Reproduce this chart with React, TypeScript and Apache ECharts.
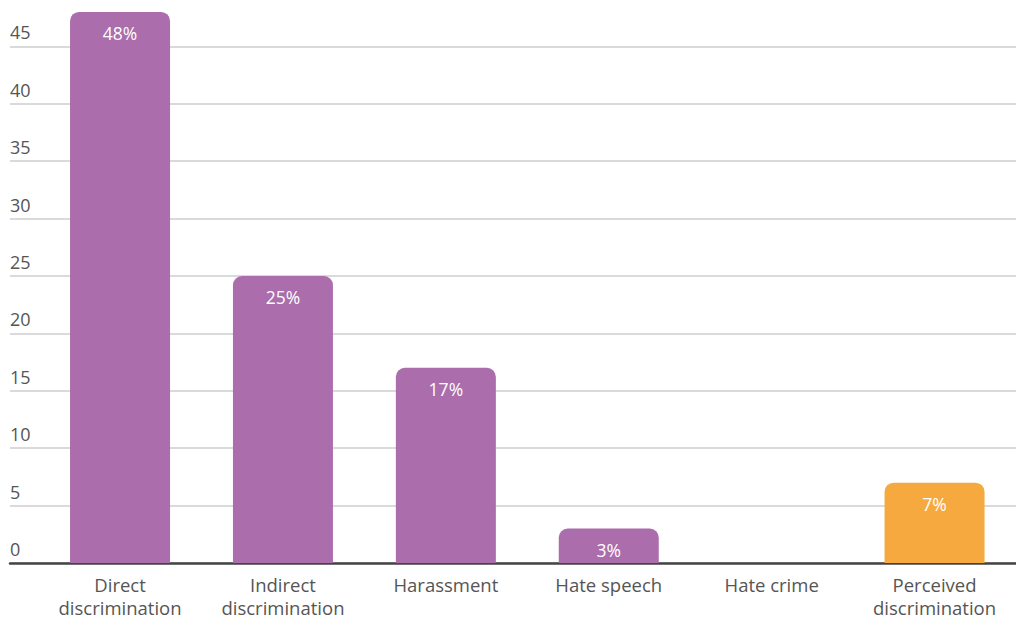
import React, { useEffect, useRef } from "react";
import * as echarts from "echarts";

const categories = [
  "Direct\ndiscrimination",
  "Indirect\ndiscrimination",
  "Harassment",
  "Hate speech",
  "Hate crime",
  "Perceived\ndiscrimination",
];
const values = [48, 25, 17, 3, 0, 7];
const barColors = ["#AB6DAB", "#AB6DAB", "#AB6DAB", "#AB6DAB", "#AB6DAB", "#F6A93F"];

const Y_MIN = 0;
const Y_MAX = 50;
const Y_INTERVAL = 5;

const OFFSET = 11.5;

export default function App() {
  const ref = useRef<HTMLDivElement>(null);
  useEffect(() => {
    if (!ref.current) return;
    const chart = echarts.init(ref.current, undefined, { renderer: "svg" });
    const font = "'Open Sans', 'Noto Sans', sans-serif";
    const gridTop = 0;
    const gridBottom = 57;
    chart.setOption({
      animation: false,
      backgroundColor: "#ffffff",
      grid: [
        { left: 10, right: 0, top: gridTop, bottom: gridBottom },
        { left: 38.6, right: 0, top: gridTop, bottom: gridBottom },
      ],
      xAxis: [
        {
          type: "value",
          gridIndex: 0,
          min: 0,
          max: 1,
          axisLine: { show: true, onZero: false, lineStyle: { color: "#444444", width: 2.5 } },
          axisTick: { show: false },
          axisLabel: { show: false },
          splitLine: { show: false },
        },
        {
          type: "category",
          gridIndex: 1,
          data: categories,
          axisLine: { show: false },
          axisTick: { show: false },
          axisLabel: {
            color: "#555555",
            fontFamily: font,
            fontSize: 18.5,
            lineHeight: 23,
            margin: 10,
            interval: 0,
          },
        },
      ],
      yAxis: [
        {
          type: "value",
          gridIndex: 0,
          min: Y_MIN,
          max: Y_MAX,
          interval: Y_INTERVAL,
          axisLine: { show: false },
          axisTick: { show: false },
          splitLine: { show: true, lineStyle: { color: "#dadada", width: 2 } },
          axisLabel: {
            inside: true,
            margin: 0,
            align: "left",
            verticalAlign: "bottom",
            padding: [0, 0, 5, 0],
            color: "#555555",
            fontFamily: font,
            fontSize: 18,
            showMaxLabel: false,
          },
        },
        {
          type: "value",
          gridIndex: 1,
          min: Y_MIN,
          max: Y_MAX,
          interval: Y_INTERVAL,
          show: false,
          splitLine: { show: false },
        },
      ],
      series: [
        {
          type: "bar",
          xAxisIndex: 1,
          yAxisIndex: 1,
          barWidth: 100,
          data: values.map((v, i) => ({
            value: v,
            itemStyle: { color: barColors[i], borderRadius: [9, 9, 0, 0] },
          })),
          label: {
            show: true,
            position: "insideTop",
            distance: 12,
            color: "#ffffff",
            fontFamily: font,
            fontSize: 17.5,
            formatter: (p: any) => (p.value ? p.value + "%" : ""),
          },
        },
      ],
    });
    return () => chart.dispose();
  }, []);
  return (
    <div style={{ position: "fixed", left: 0, top: 0, width: 1016, height: 619, overflow: "hidden", background: "#fff" }}>
      <div
        ref={ref}
        style={{ position: "absolute", left: 0, top: -OFFSET, width: 1016, height: 619 + OFFSET }}
      />
    </div>
  );
}
